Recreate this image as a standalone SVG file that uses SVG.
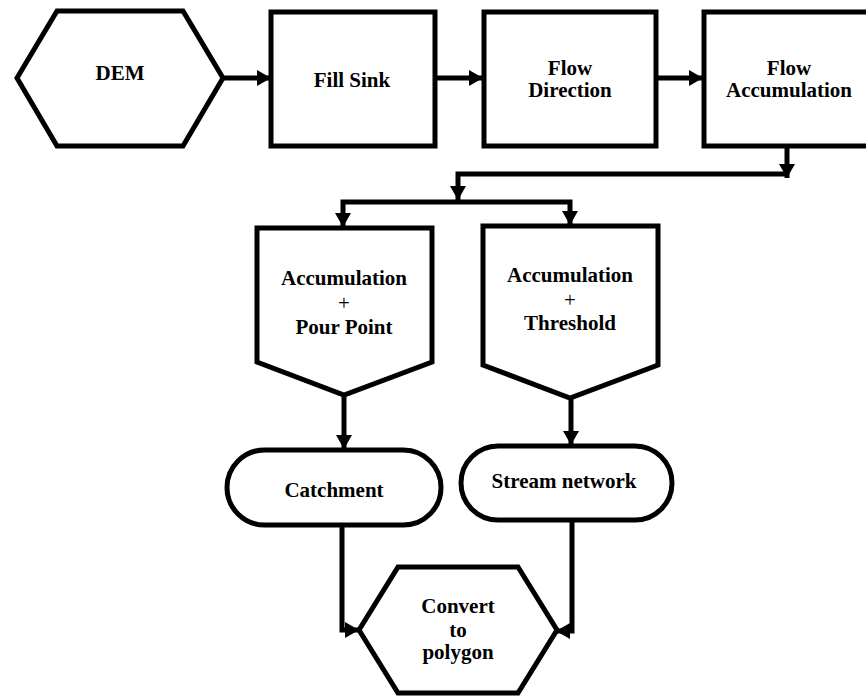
<svg xmlns="http://www.w3.org/2000/svg" width="866" height="696" viewBox="0 0 866 696" font-family="'Liberation Serif', Tinos, 'Times New Roman', 'DejaVu Serif', serif">
<style>
.n{fill:#fff;stroke:#000;stroke-width:5;stroke-linejoin:miter}
.t{font-weight:bold;font-size:21px;fill:#000;text-anchor:middle}
.c{fill:none;stroke:#000;stroke-width:5}
</style>
<defs>
<marker id="ah" markerUnits="userSpaceOnUse" markerWidth="15" markerHeight="16" refX="14" refY="8" orient="auto">
<path d="M0,0 L14,8 L0,16 z" fill="#000"/>
</marker>
</defs>
<rect width="866" height="696" fill="#fff"/>
<g id="connectors">
<line class="c" x1="223" y1="78" x2="271" y2="78" marker-end="url(#ah)"/>
<line class="c" x1="435" y1="78" x2="483" y2="78" marker-end="url(#ah)"/>
<line class="c" x1="656" y1="78" x2="703" y2="78" marker-end="url(#ah)"/>
<line class="c" x1="787" y1="146" x2="787" y2="178" marker-end="url(#ah)"/>
<polyline class="c" points="789,174 458,174 458,200" marker-end="url(#ah)"/>
<polyline class="c" points="458,202 343,202 343,227" marker-end="url(#ah)"/>
<polyline class="c" points="458,202 570,202 570,225" marker-end="url(#ah)"/>
<line class="c" x1="344" y1="395" x2="344" y2="449" marker-end="url(#ah)"/>
<line class="c" x1="571" y1="398" x2="571" y2="445" marker-end="url(#ah)"/>
<polyline class="c" points="342,525 342,630 359,630" marker-end="url(#ah)"/>
<polyline class="c" points="572,520 572,631 556,631" marker-end="url(#ah)"/>
</g>
<g id="dem">
<polygon class="n" points="17,78 57,11 183,11 223,78 183,146 57,146"/>
<text class="t" x="120" y="80">DEM</text>
</g>
<g id="fill-sink">
<rect class="n" x="271" y="12" width="164" height="134"/>
<text class="t" x="352" y="87">Fill Sink</text>
</g>
<g id="flow-direction">
<rect class="n" x="484" y="12" width="172" height="134"/>
<text class="t" x="570" y="75">Flow</text>
<text class="t" x="570" y="97">Direction</text>
</g>
<g id="flow-accumulation">
<rect class="n" x="704" y="12" width="172" height="134"/>
<text class="t" x="789" y="75">Flow</text>
<text class="t" x="789" y="97">Accumulation</text>
</g>
<g id="accum-pour-point">
<polygon class="n" points="257,228 432,228 432,362 344,395 257,362"/>
<text class="t" x="344" y="285">Accumulation</text>
<text class="t" x="344" y="310" style="font-weight:normal">+</text>
<text class="t" x="344" y="334">Pour Point</text>
</g>
<g id="accum-threshold">
<polygon class="n" points="483,226 658,226 658,365 570,398 483,365"/>
<text class="t" x="570" y="282">Accumulation</text>
<text class="t" x="570" y="307" style="font-weight:normal">+</text>
<text class="t" x="570" y="330">Threshold</text>
</g>
<g id="catchment">
<rect class="n" x="227" y="450" width="214" height="75" rx="37.5"/>
<text class="t" x="334" y="497">Catchment</text>
</g>
<g id="stream-network">
<rect class="n" x="461" y="446" width="211" height="74" rx="37"/>
<text class="t" x="564" y="488">Stream network</text>
</g>
<g id="convert-to-polygon">
<polygon class="n" points="398,567 518,567 557,630 518,693 398,693 359,630"/>
<text class="t" x="458" y="613">Convert</text>
<text class="t" x="458" y="637">to</text>
<text class="t" x="458" y="659">polygon</text>
</g>
</svg>
